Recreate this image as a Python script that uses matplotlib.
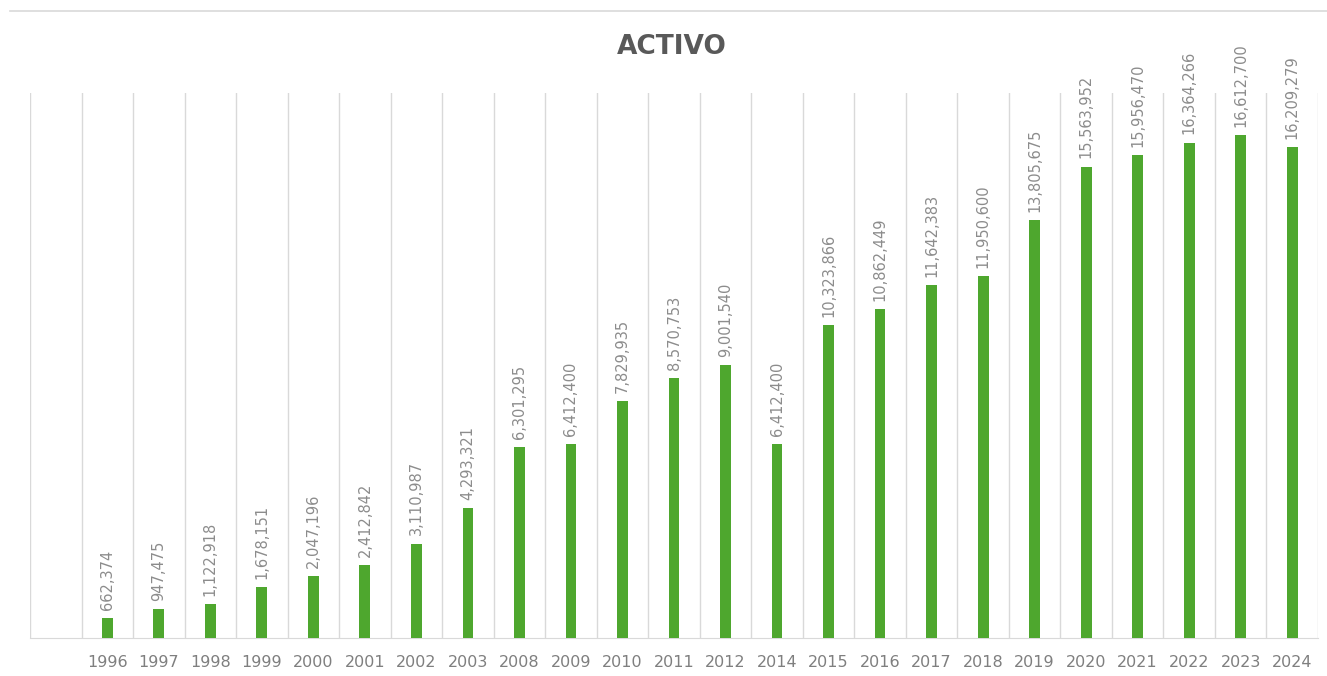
import matplotlib.pyplot as plt
from matplotlib.lines import Line2D

years = ["1996", "1997", "1998", "1999", "2000", "2001", "2002", "2003", "2008", "2009",
         "2010", "2011", "2012", "2014", "2015", "2016", "2017", "2018", "2019", "2020",
         "2021", "2022", "2023", "2024"]
activo = [662374, 947475, 1122918, 1678151, 2047196, 2412842, 3110987, 4293321, 6301295,
          6412400, 7829935, 8570753, 9001540, 6412400, 10323866, 10862449, 11642383,
          11950600, 13805675, 15563952, 15956470, 16364266, 16612700, 16209279]

fig = plt.figure(figsize=(13.27, 6.76), dpi=100)
ax = fig.add_axes([30 / 1327, 1 - 638 / 676, 1288 / 1327, 545 / 676])

x = list(range(len(years)))
ax.bar(x, activo, width=0.21, color="#4ea72e", zorder=3)

# gridlines between categories (one empty slot on the left)
for g in range(-1, len(years) + 1):
    ax.axvline(g - 0.5, color="#d9d9d9", lw=1, zorder=1)

for xi, v in zip(x, activo):
    ax.annotate(f"{v:,}", (xi, v), xytext=(0, 6), textcoords="offset points",
                rotation=90, ha="center", va="bottom", fontsize=10.5, color="#8c8c8c")

ax.set_xlim(-1.5, len(years) - 0.5)
ax.set_ylim(0, 18000000)
ax.set_xticks(x)
ax.set_xticklabels(years, fontsize=11.5, color="#7f7f7f")
ax.tick_params(axis="x", length=0, pad=12)
ax.set_yticks([])
for s in ["top", "left", "right"]:
    ax.spines[s].set_visible(False)
ax.spines["bottom"].set_color("#d9d9d9")

fig.text(672 / 1327, 1 - 47 / 676, "ACTIVO", ha="center", va="center",
         fontsize=19, fontweight="bold", color="#595959")
fig.add_artist(Line2D([10 / 1327, 1], [1 - 11 / 676, 1 - 11 / 676],
                      color="#d9d9d9", lw=1.2))

fig.savefig("out.png", dpi=100)
